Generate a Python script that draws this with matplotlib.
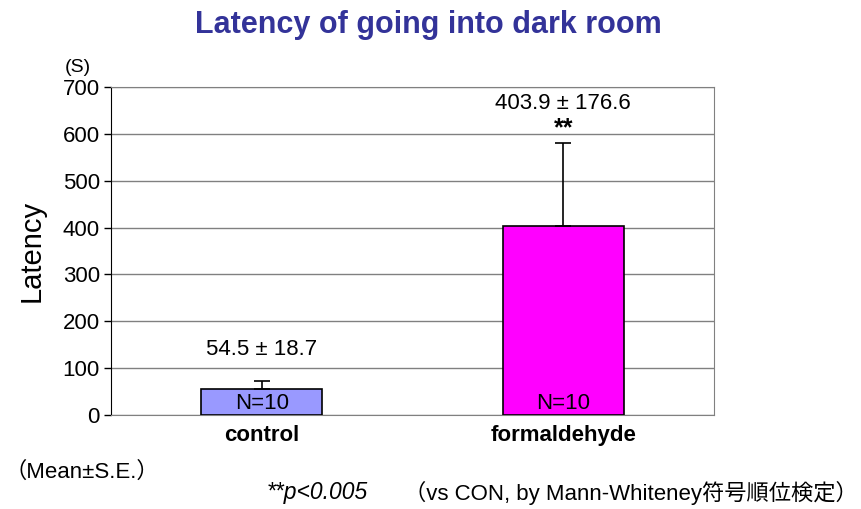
import matplotlib
matplotlib.use("Agg")
import matplotlib.pyplot as plt

# ── data ──────────────────────────────────────────────────────────────────────
groups = ["control", "formaldehyde"]
means = [54.5, 403.9]
errors = [18.7, 176.6]
n_labels = ["N=10", "N=10"]
bar_colors = ["#9999FF", "#FF00FF"]
yticks = [0, 100, 200, 300, 400, 500, 600, 700]

plt.rcParams["font.family"] = ["Liberation Sans", "Noto Sans CJK JP", "DejaVu Sans"]

fig = plt.figure(figsize=(8.62, 5.09), dpi=100)
ax = fig.add_axes([111 / 862, 94 / 509, 603 / 862, 328 / 509])

x = list(range(len(groups)))
ax.bar(x, means, width=0.4, color=bar_colors, edgecolor="black", linewidth=1.2,
       zorder=3)
ax.errorbar(x, means, yerr=[[0] * len(errors), errors], fmt="none",
            ecolor="black", elinewidth=1.2, capsize=6, capthick=1.2, zorder=4)

ax.set_xlim(-0.5, 1.5)
ax.set_ylim(0, 700)
ax.set_yticks(yticks)
ax.set_yticklabels([str(t) for t in yticks], fontsize=16)
ax.yaxis.grid(True, color="#808080", linewidth=1, zorder=0)
ax.set_axisbelow(True)
ax.tick_params(axis="y", direction="out", length=5, width=1, pad=3)
ax.set_xticks(x)
ax.set_xticklabels(groups, fontsize=16, fontweight="bold")
ax.tick_params(axis="x", length=0, pad=7)

for side in ["top", "right", "bottom"]:
    ax.spines[side].set_color("#808080")
ax.spines["left"].set_color("black")

ax.set_ylabel("Latency", fontsize=21, labelpad=12)
ax.text(-0.055, 1.035, "(S)", transform=ax.transAxes, ha="center",
        va="bottom", fontsize=14)

# value labels (above the error caps)
ax.text(x[0], means[0] + errors[0] + 67, f"{means[0]} ± {errors[0]}",
        ha="center", va="center", fontsize=16)
ax.text(x[1], means[1] + errors[1] + 85, f"{means[1]} ± {errors[1]}",
        ha="center", va="center", fontsize=16)
ax.text(x[1], means[1] + errors[1] + 32, "**", ha="center", va="center",
        fontsize=18, fontweight="bold")
for xi, nl in zip(x, n_labels):
    ax.text(xi, 3, nl, ha="center", va="bottom", fontsize=16)

# title & footnotes
fig.text(428 / 862, 1 - 25 / 509, "Latency of going into dark room",
         ha="center", va="center", fontsize=22, fontweight="bold",
         color="#333399")
fig.text(4 / 862, 1 - 472 / 509, "（Mean±S.E.）", ha="left", va="center",
         fontsize=16)
fig.text(368 / 862, 1 - 493 / 509, "**p<0.005", ha="right", va="center",
         fontsize=16.5, style="italic")
fig.text(404 / 862, 1 - 493 / 509, "（vs CON, by Mann-Whiteney符号順位検定）",
         ha="left", va="center", fontsize=16)

fig.savefig("out.png", dpi=100, facecolor="white")
